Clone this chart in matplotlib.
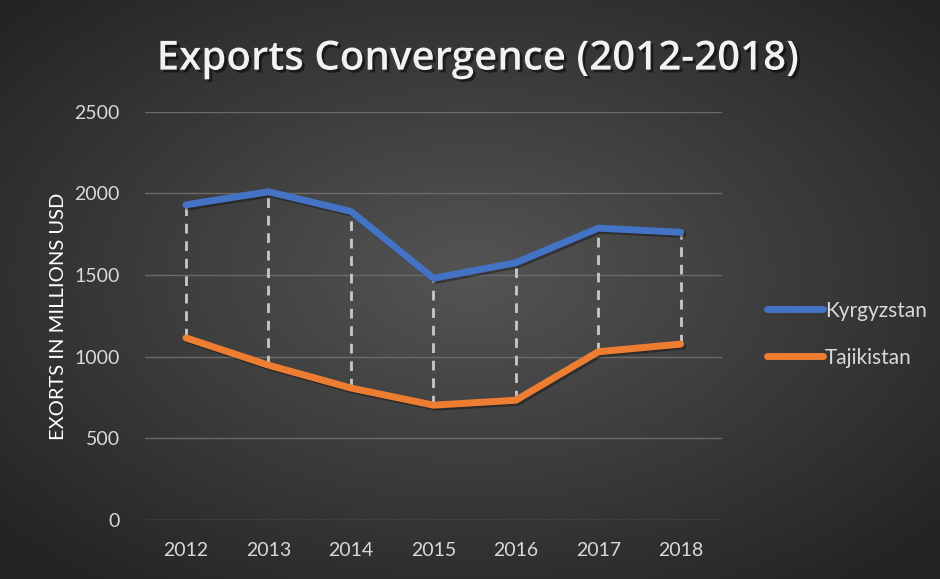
import matplotlib
matplotlib.use('Agg')
import matplotlib.pyplot as plt
import matplotlib.patheffects as pe
import numpy as np

# data (millions USD)
years = ['2012', '2013', '2014', '2015', '2016', '2017', '2018']
kyrgyzstan = [1930, 2010, 1890, 1480, 1575, 1787, 1762]
tajikistan = [1115, 948, 808, 703, 733, 1030, 1077]
y_ticks = [0, 500, 1000, 1500, 2000, 2500]

BLUE = '#4472C4'
ORANGE = '#ED7D31'
TEXT = '#D9D9D9'

plt.rcParams['font.family'] = ['Lato', 'DejaVu Sans']

fig = plt.figure(figsize=(9.4, 5.79), dpi=100)

# radial dark background
bg = fig.add_axes([0, 0, 1, 1], zorder=-10)
gx, gy = np.meshgrid(np.linspace(-1, 1, 470), np.linspace(-1, 1, 290))
r = np.sqrt(gx ** 2 + (gy + 0.05) ** 2)
shade = 0.33 - 0.19 * np.clip(r / 1.35, 0, 1)
bg.imshow(np.dstack([shade, shade, shade]), aspect='auto', extent=[0, 1, 0, 1],
          interpolation='bicubic')
bg.axis('off')

ax = fig.add_axes([0.154, 0.102, 0.614, 0.705])
ax.patch.set_alpha(0)
x = np.arange(len(years))

# high-low lines between the two series
for xi, hi, lo in zip(x, kyrgyzstan, tajikistan):
    ax.plot([xi, xi], [lo, hi], color='#C8C8C8', lw=2, ls=(0, (3.5, 2.8)), zorder=2)

shadow = [pe.SimpleLineShadow(offset=(1.5, -1.5), shadow_color='black', alpha=0.35), pe.Normal()]
ax.plot(x, kyrgyzstan, color=BLUE, lw=5, label='Kyrgyzstan', zorder=3,
        solid_joinstyle='round', solid_capstyle='round', path_effects=shadow)
ax.plot(x, tajikistan, color=ORANGE, lw=5, label='Tajikistan', zorder=3,
        solid_joinstyle='round', solid_capstyle='round', path_effects=shadow)

ax.set_xlim(-0.5, len(years) - 0.5)
ax.set_ylim(0, 2500)
ax.set_xticks(x)
ax.set_xticklabels(years)
ax.set_yticks(y_ticks)
ax.grid(axis='y', color='#6A6A6A', lw=1)
ax.set_axisbelow(True)
for s in ax.spines.values():
    s.set_visible(False)
ax.tick_params(axis='both', length=0, colors=TEXT, labelsize=14)
ax.tick_params(axis='x', pad=16)
ax.tick_params(axis='y', pad=18)

ax.set_ylabel('EXORTS IN MILLIONS USD', color='white', fontsize=14.5)
ax.yaxis.set_label_coords(-0.135, 0.5)

fig.text(0.508, 0.897, 'Exports Convergence (2012-2018)', ha='center', va='center',
         color='#F2F2F2', fontsize=29, fontweight='semibold', family=['Open Sans', 'DejaVu Sans'],
         path_effects=[pe.withSimplePatchShadow(offset=(2, -2), shadow_rgbFace='black', alpha=0.5)])

leg = ax.legend(loc='center left', bbox_to_anchor=(1.045, 0.455), frameon=False,
                fontsize=15, labelcolor=TEXT, handlelength=2.7, handletextpad=0.1,
                labelspacing=1.3)
for h in leg.get_lines():
    h.set_linewidth(5)
    h.set_path_effects([])

fig.savefig('out.png', dpi=100, facecolor='#2a2a2a')
